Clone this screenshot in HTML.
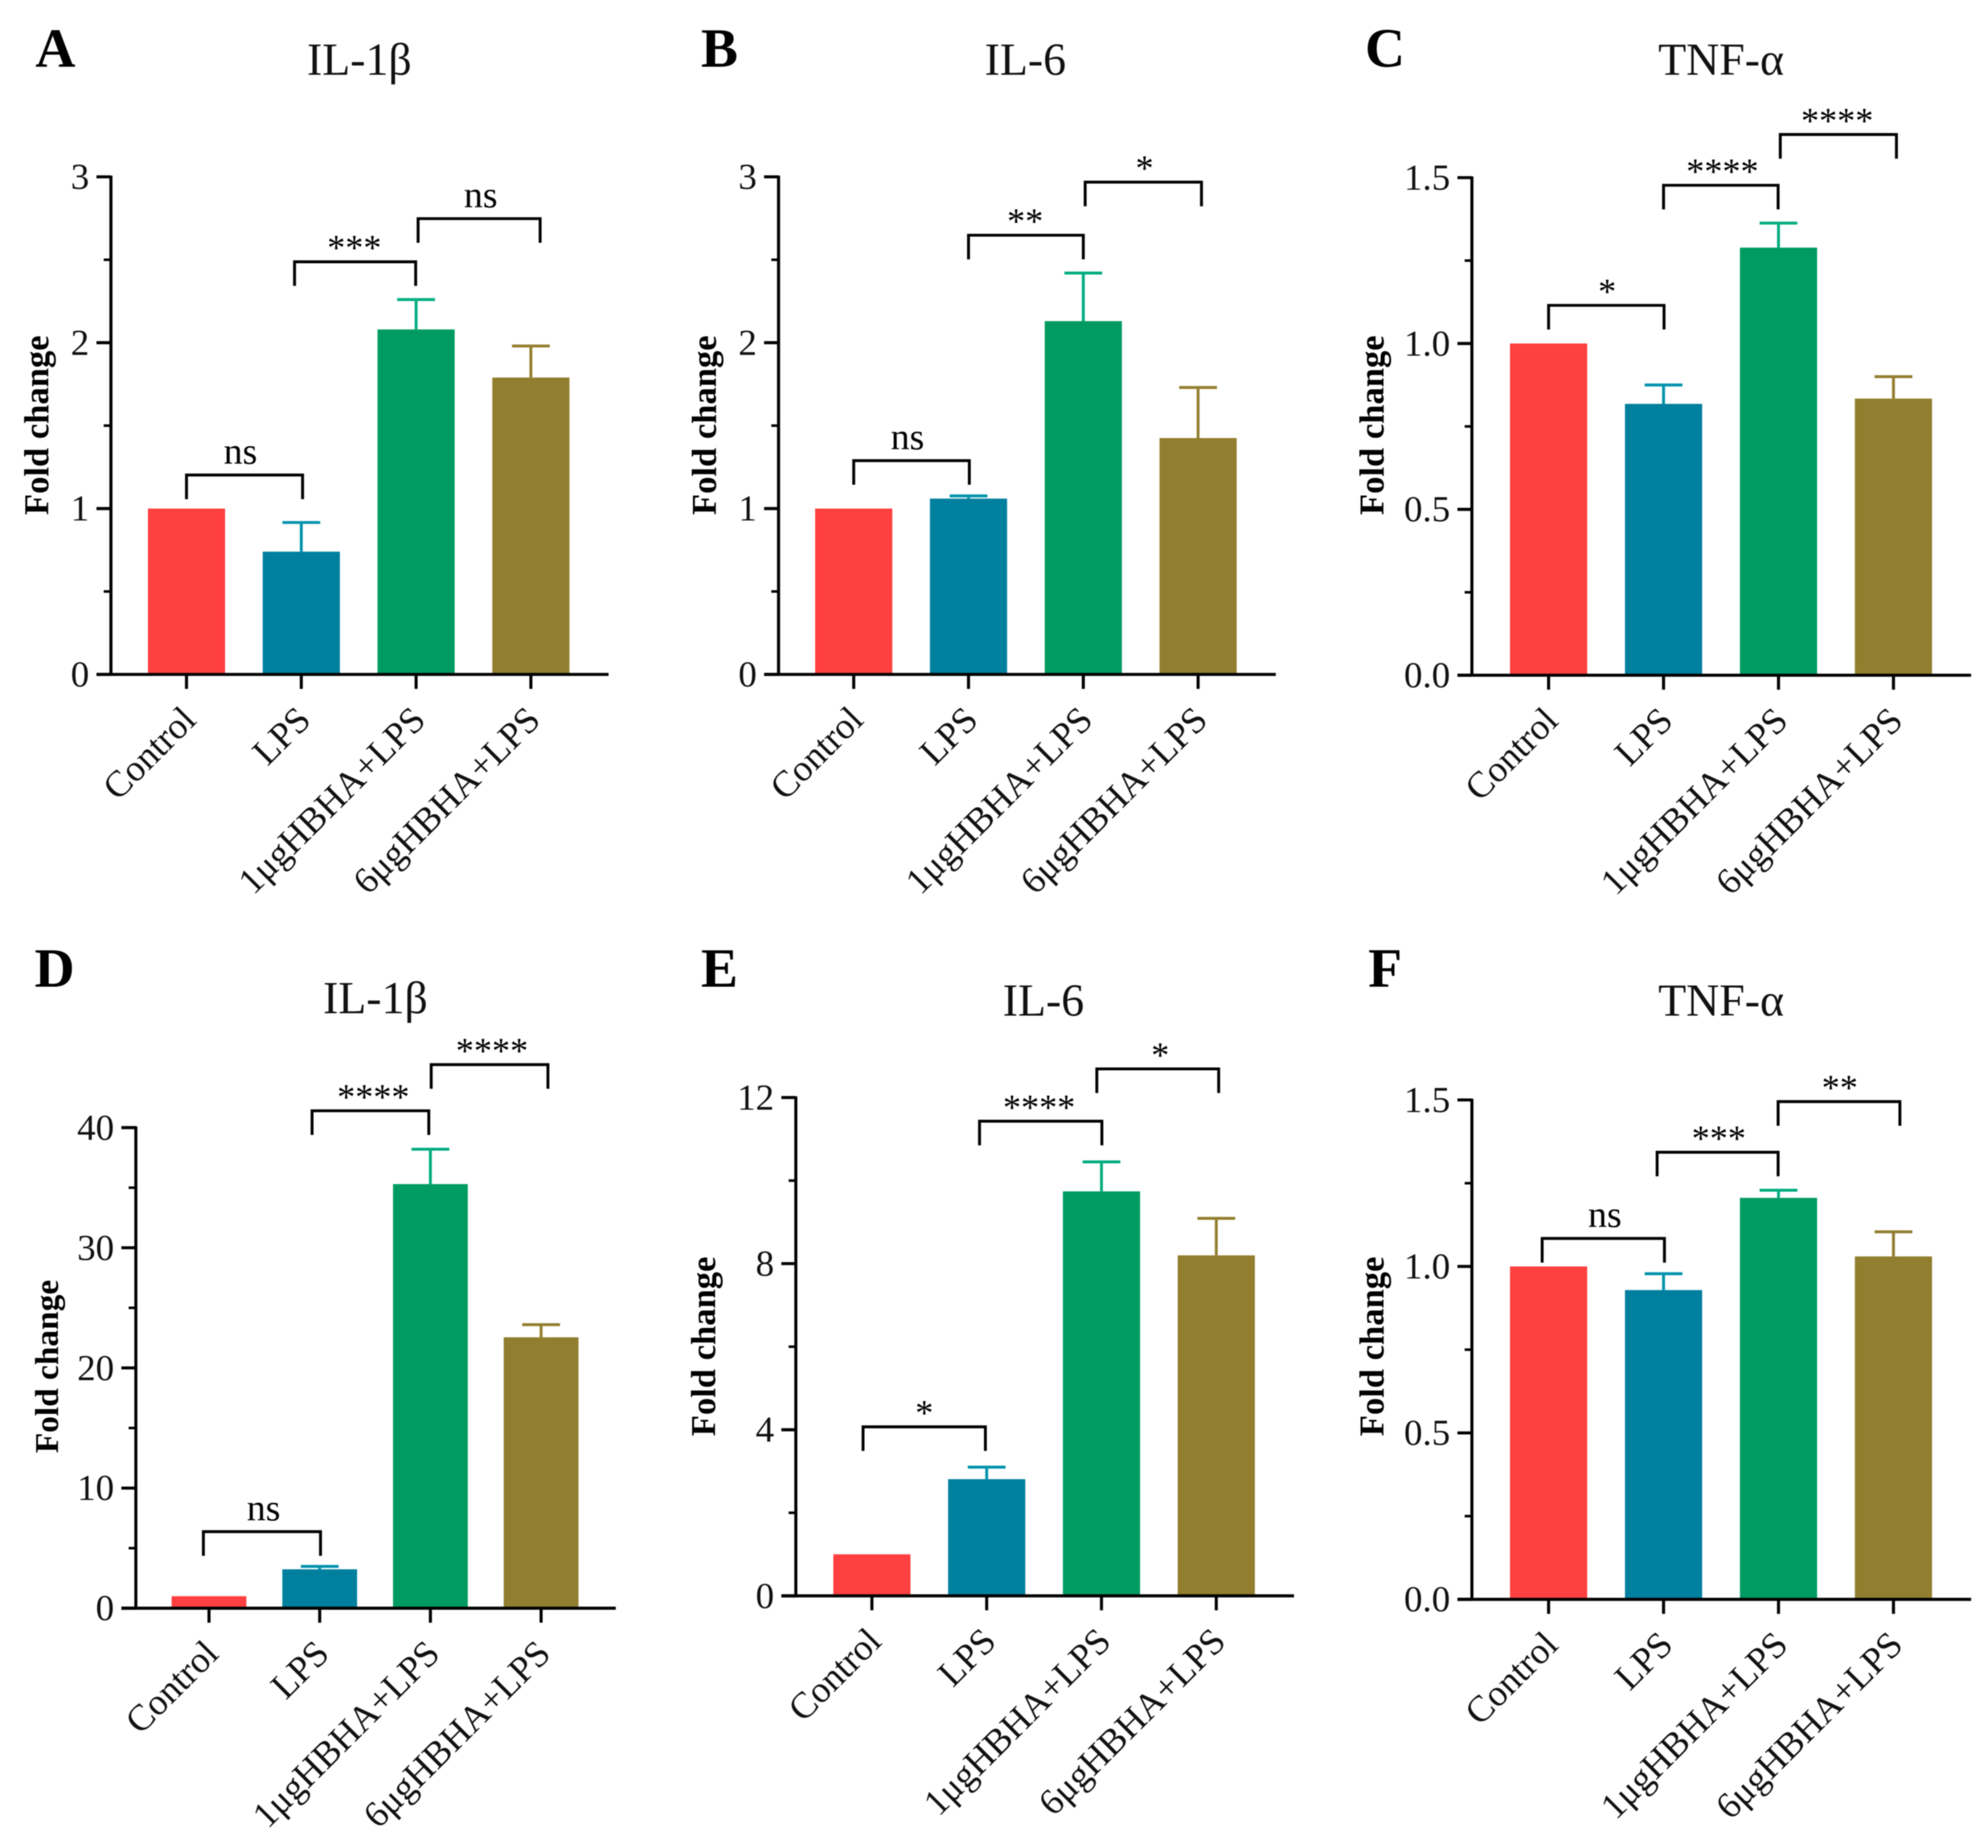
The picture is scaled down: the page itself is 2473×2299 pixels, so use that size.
<!DOCTYPE html>
<html lang="en">
<head>
<meta charset="utf-8">
<title>Fold change bar charts</title>
<style>
html,body{margin:0;padding:0;background:#fff;}
svg{display:block;font-family:"Liberation Serif","DejaVu Serif",serif;filter:blur(0.6px);}
</style>
</head>
<body>
<svg id="figure" xmlns="http://www.w3.org/2000/svg" width="2473" height="2299" viewBox="0 0 2473 2299"></svg>
<script>
const categories = ['Control', 'LPS', '1μgHBHA+LPS', '6μgHBHA+LPS'];
const panelLetters = ['A', 'B', 'C', 'D', 'E', 'F'];
const panelTitles = ['IL-1β', 'IL-6', 'TNF-α', 'IL-1β', 'IL-6', 'TNF-α'];
const yAxisTitle = 'Fold change';

const valuesA = [1, 0.74, 2.08, 1.79];
const errorTopsA = [1, 0.916, 2.26, 1.98];
const tickLabelsA = ['0', '1', '2', '3'];
const sigLabelsA = ['ns', '***', 'ns'];
const sigLevelsA = [1.202, 2.488, 2.748];

const valuesB = [1, 1.06, 2.13, 1.425];
const errorTopsB = [1, 1.076, 2.42, 1.73];
const tickLabelsB = ['0', '1', '2', '3'];
const sigLabelsB = ['ns', '**', '*'];
const sigLevelsB = [1.289, 2.648, 2.968];

const valuesC = [1, 0.818, 1.289, 0.834];
const errorTopsC = [1, 0.875, 1.363, 0.9];
const tickLabelsC = ['0.0', '0.5', '1.0', '1.5'];
const sigLabelsC = ['*', '****', '****'];
const sigLevelsC = [1.115, 1.477, 1.63];

const valuesD = [1, 3.24, 35.3, 22.55];
const errorTopsD = [1, 3.48, 38.2, 23.6];
const tickLabelsD = ['0', '10', '20', '30', '40'];
const sigLabelsD = ['ns', '****', '****'];
const sigLevelsD = [6.37, 41.4, 45.24];

const valuesE = [1, 2.81, 9.74, 8.2];
const errorTopsE = [1, 3.1, 10.45, 9.09];
const tickLabelsE = ['0', '4', '8', '12'];
const sigLabelsE = ['*', '****', '*'];
const sigLevelsE = [4.07, 11.43, 12.69];

const valuesF = [1, 0.929, 1.206, 1.03];
const errorTopsF = [1, 0.978, 1.229, 1.104];
const tickLabelsF = ['0.0', '0.5', '1.0', '1.5'];
const sigLabelsF = ['ns', '***', '**'];
const sigLevelsF = [1.084, 1.343, 1.495];

const seriesValues = [valuesA, valuesB, valuesC, valuesD, valuesE, valuesF];
const seriesErrorTops = [errorTopsA, errorTopsB, errorTopsC, errorTopsD, errorTopsE, errorTopsF];
const seriesTickLabels = [tickLabelsA, tickLabelsB, tickLabelsC, tickLabelsD, tickLabelsE, tickLabelsF];
const seriesSigLabels = [sigLabelsA, sigLabelsB, sigLabelsC, sigLabelsD, sigLabelsE, sigLabelsF];
const seriesSigLevels = [sigLevelsA, sigLevelsB, sigLevelsC, sigLevelsD, sigLevelsE, sigLevelsF];

/* layout only, no data */
const layouts = [
  {axisX:138, right:757, top:220, bottom:839, first:232, step:142.8, barW:96, yTitleSize:43,
   letterX:44, letterY:83, titleX:447, titleY:93, yTitleX:60, yTitleY:529,
   spans:[[0,1.6],[-8.4,-0.5],[2.5,11.5]], labelDx:[-5,-1,2]},
  {axisX:968.5, right:1587, top:220, bottom:839, first:1062, step:142.8, barW:96, yTitleSize:43,
   letterX:872, letterY:83, titleX:1275.5, titleY:93, yTitleX:890.6, yTitleY:529,
   spans:[[0,1],[0,0],[2.3,4.2]], labelDx:[-5,-1,1.5]},
  {axisX:1831, right:2452, top:221, bottom:840, first:1926.4, step:143, barW:96, yTitleSize:43,
   letterX:1698, letterY:83, titleX:2141, titleY:93, yTitleX:1721, yTitleY:529,
   spans:[[0,0.6],[0,-0.5],[2.2,3.7]], labelDx:[1,2,-1.5]},
  {axisX:169, right:766, top:1402.8, bottom:2000.7, first:260, step:137.7, barW:93, yTitleSize:41.5,
   letterX:43, letterY:1227.7, titleX:467, titleY:1260.6, yTitleX:72, yTitleY:1700,
   spans:[[-7,1],[-9.5,-2],[1,8.5]], labelDx:[2,3.6,3]},
  {axisX:990, right:1609.7, top:1365.4, bottom:1985.3, first:1084.6, step:142.8, barW:96, yTitleSize:43,
   letterX:872, letterY:1227.7, titleX:1298, titleY:1263.6, yTitleX:889.6, yTitleY:1675,
   spans:[[-11,-1.6],[-8.9,0.5],[-5.8,3]], labelDx:[0,-2,3]},
  {axisX:1831, right:2452, top:1368.4, bottom:1989.7, first:1926.4, step:143, barW:96, yTitleSize:43,
   letterX:1702, letterY:1227.7, titleX:2141, titleY:1263.6, yTitleX:1721, yTitleY:1675,
   spans:[[-8,1.1],[-8,-0.5],[-0.5,8]], labelDx:[2,1.5,1]}
];
const barColors = ['#FF4040', '#007F9E', '#009B62', '#927E2F'];
const errorColors = ['#FF4040', '#0092AC', '#00AC80', '#927E2F'];
const sigPairs = [[0, 1], [1, 2], [2, 3]];
const AXIS_W = 3.8;
const SVG_NS = 'http://www.w3.org/2000/svg';
const figure = document.getElementById('figure');

function make(tag, parent, attrs, text) {
  const el = document.createElementNS(SVG_NS, tag);
  for (const k in attrs) { el.setAttribute(k, attrs[k]); }
  if (text !== undefined) { el.textContent = text; }
  parent.appendChild(el);
  return el;
}
function seg(parent, x1, y1, x2, y2, color, w) {
  return make('line', parent, {x1:x1, y1:y1, x2:x2, y2:y2, stroke:color, 'stroke-width':w});
}

layouts.forEach(function (L, p) {
  const values = seriesValues[p];
  const errorTops = seriesErrorTops[p];
  const tickLabels = seriesTickLabels[p];
  const sigLabels = seriesSigLabels[p];
  const sigLevels = seriesSigLevels[p];
  const tickNums = tickLabels.map(Number);
  const maxV = tickNums[tickNums.length - 1];
  const yScale = function (v) { return L.bottom - (v / maxV) * (L.bottom - L.top); };
  const xScale = function (i) { return L.first + i * L.step; };

  const g = make('g', figure, {});
  
  

  const letter = make('text', g, {x:L.letterX, y:L.letterY, 'font-size':69, 'font-weight':'bold', fill:'#000'}, panelLetters[p]);
  
  

  const title = make('text', g, {x:L.titleX, y:L.titleY, 'font-size':57, 'text-anchor':'middle', fill:'#111'}, panelTitles[p]);
  
  

  const yTitle = make('text', g, {x:0, y:0, transform:'translate(' + L.yTitleX + ' ' + L.yTitleY + ') rotate(-90)', 'font-size':L.yTitleSize, 'font-weight':'bold', 'text-anchor':'middle', fill:'#000'}, yAxisTitle);
  
  

  /* bars and error bars */
  values.forEach(function (v, i) {
    const cx = xScale(i);
    const bar = make('rect', g, {x:cx - L.barW / 2, y:yScale(v), width:L.barW, height:L.bottom - yScale(v), fill:barColors[i]});
    
    
    if (errorTops[i] > v) {
      const stem = seg(g, cx, yScale(v), cx, yScale(errorTops[i]), errorColors[i], 3.6);
      
      
      const cap = seg(g, cx - 23.5, yScale(errorTops[i]), cx + 23.5, yScale(errorTops[i]), errorColors[i], 3.6);
      
      
    }
  });

  /* axes */
  const yAxis = seg(g, L.axisX, L.top - 1.5, L.axisX, L.bottom + 1.5, '#000', AXIS_W);
  
  
  const xAxis = seg(g, L.axisX - 18, L.bottom, L.right, L.bottom, '#000', AXIS_W);
  
  

  tickLabels.forEach(function (label, i) {
    const v = tickNums[i];
    const y = yScale(v);
    const tick = seg(g, L.axisX - 18, y, L.axisX, y, '#000', AXIS_W);
    
    
    const lab = make('text', g, {x:L.axisX - 27, y:y + 15, 'font-size':46, 'text-anchor':'end', fill:'#111'}, label);
    
    
    if (i < tickLabels.length - 1) {
      const my = yScale((v + tickNums[i + 1]) / 2);
      const minor = seg(g, L.axisX - 9, my, L.axisX, my, '#000', 3.2);
      
      
    }
  });

  /* x axis ticks and rotated labels */
  categories.forEach(function (name, i) {
    const cx = xScale(i);
    const tick = seg(g, cx, L.bottom, cx, L.bottom + 18, '#000', AXIS_W);
    
    
    const ax = cx + 14;
    const ay = L.bottom + 59;
    const lab = make('text', g, {x:0, y:0, transform:'translate(' + ax + ' ' + ay + ') rotate(-45)', 'font-size':46, 'text-anchor':'end', fill:'#111'}, name);
    
    
  });

  /* significance brackets */
  sigLabels.forEach(function (label, i) {
    const x1 = xScale(sigPairs[i][0]) + L.spans[i][0];
    const x2 = xScale(sigPairs[i][1]) + L.spans[i][1];
    const y = yScale(sigLevels[i]);
    const bracket = make('path', g, {d:'M' + x1 + ' ' + (y + 30) + 'V' + y + 'H' + x2 + 'V' + (y + 30), fill:'none', stroke:'#000', 'stroke-width':3.6});
    
    
    const isNs = label === 'ns';
    const lab = make('text', g, {x:(x1 + x2) / 2 + L.labelDx[i], y:isNs ? y - 14 : y - 2, 'font-size':isNs ? 47 : 45, 'text-anchor':'middle', fill:'#000'}, label);
    
    
  });
});
</script>
</body>
</html>
